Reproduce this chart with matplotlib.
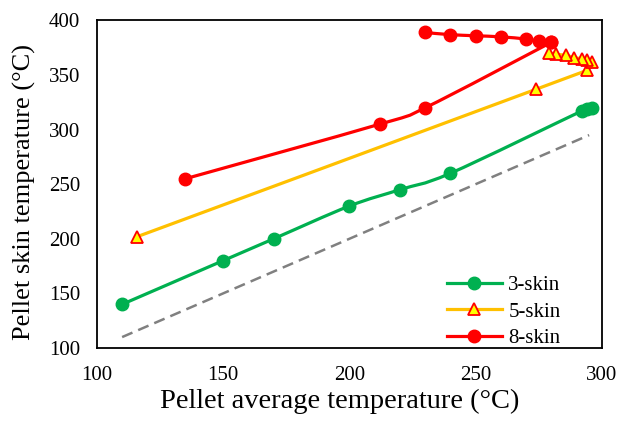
import matplotlib
matplotlib.use("Agg")
import matplotlib.pyplot as plt
from matplotlib.path import Path
from matplotlib.patches import PathPatch

plt.rcParams['font.family'] = ['Liberation Serif', 'DejaVu Serif']

# 3-skin
x3 = [110, 150, 170, 200, 220, 240, 292, 294, 296]
y3 = [140, 180, 200, 230, 245, 260, 317, 318.5, 320]
# 5-skin
x5 = [116, 274, 294, 296, 294, 292, 289, 286, 282, 279]
y5 = [202, 337, 355, 362, 364, 365, 366, 368, 369, 370]
# 8-skin (two pieces meet at 280)
x8a = [135, 212, 230, 280]
y8a = [255, 305, 320, 380]
x8b = [280, 275, 270, 260, 250, 240, 230]
y8b = [380, 381, 383, 385, 386, 387, 389]
# y = x reference
xref = [110, 295]

green = '#00B050'
yellow = '#FFC000'
red = '#FF0000'


def smooth(ax, xs, ys, color, lw):
    # excel-like smoothed line (catmull-rom as bezier)
    verts = [(xs[0], ys[0])]
    codes = [Path.MOVETO]
    n = len(xs)
    for i in range(n - 1):
        x0, y0 = (xs[i - 1], ys[i - 1]) if i > 0 else (xs[i], ys[i])
        x1, y1 = xs[i], ys[i]
        x2, y2 = xs[i + 1], ys[i + 1]
        x3_, y3_ = (xs[i + 2], ys[i + 2]) if i + 2 < n else (x2, y2)
        c1 = (x1 + (x2 - x0) / 6, y1 + (y2 - y0) / 6)
        c2 = (x2 - (x3_ - x1) / 6, y2 - (y3_ - y1) / 6)
        verts += [c1, c2, (x2, y2)]
        codes += [Path.CURVE4] * 3
    ax.add_patch(PathPatch(Path(verts, codes), fill=False, edgecolor=color,
                           lw=lw, capstyle='round', joinstyle='round', zorder=2))


fig = plt.figure(figsize=(6.21, 4.21), dpi=100)
ax = fig.add_axes([0.156, 0.1734, 0.813, 0.778])

ax.plot(xref, xref, color='#808080', lw=1.8, ls=(0, (4.5, 2.5)), zorder=1)

smooth(ax, x3, y3, green, 2.3)
smooth(ax, x5, y5, yellow, 2.3)
smooth(ax, x8a, y8a, red, 2.3)
smooth(ax, x8b, y8b, red, 2.3)

ax.plot(x3, y3, 'o', color=green, ms=9, zorder=3)
ax.plot(x5, y5, '^', mfc='#FFFF00', mec=red, mew=1.3, ms=9, zorder=3)
ax.plot(x8a + x8b, y8a + y8b, 'o', color=red, ms=9, zorder=3)

# legend handles
h3, = ax.plot([], [], '-o', color=green, lw=2.3, ms=9)
h5, = ax.plot([], [], '-^', color=yellow, mfc='#FFFF00', mec=red, mew=1.3, lw=2.3, ms=9)
h8, = ax.plot([], [], '-o', color=red, lw=2.3, ms=9)
ax.legend([h3, h5, h8], ['3-skin', '5-skin', '8-skin'], loc='lower left',
          bbox_to_anchor=(0.693, 0.0), frameon=False, fontsize=15,
          handlelength=2.65, handletextpad=0.3, labelspacing=0.33,
          borderpad=0.0, borderaxespad=0.0)

ax.set_xlim(100, 300)
ax.set_ylim(100, 400)
ax.set_xticks([100, 150, 200, 250, 300])
ax.set_yticks([100, 150, 200, 250, 300, 350, 400])
ax.tick_params(length=0, labelsize=15)
ax.tick_params(axis='y', pad=12)
ax.tick_params(axis='x', pad=13)
for s in ax.spines.values():
    s.set_linewidth(1.3)
    s.set_color('black')

ax.set_xlabel('Pellet average temperature (°C)', fontsize=20.5, va='center')
ax.xaxis.set_label_coords(0.481, -0.162)
ax.set_ylabel('Pellet skin temperature (°C)', fontsize=19, va='center')
ax.yaxis.set_label_coords(-0.1426, 0.475)

fig.savefig('out.png', dpi=100)
